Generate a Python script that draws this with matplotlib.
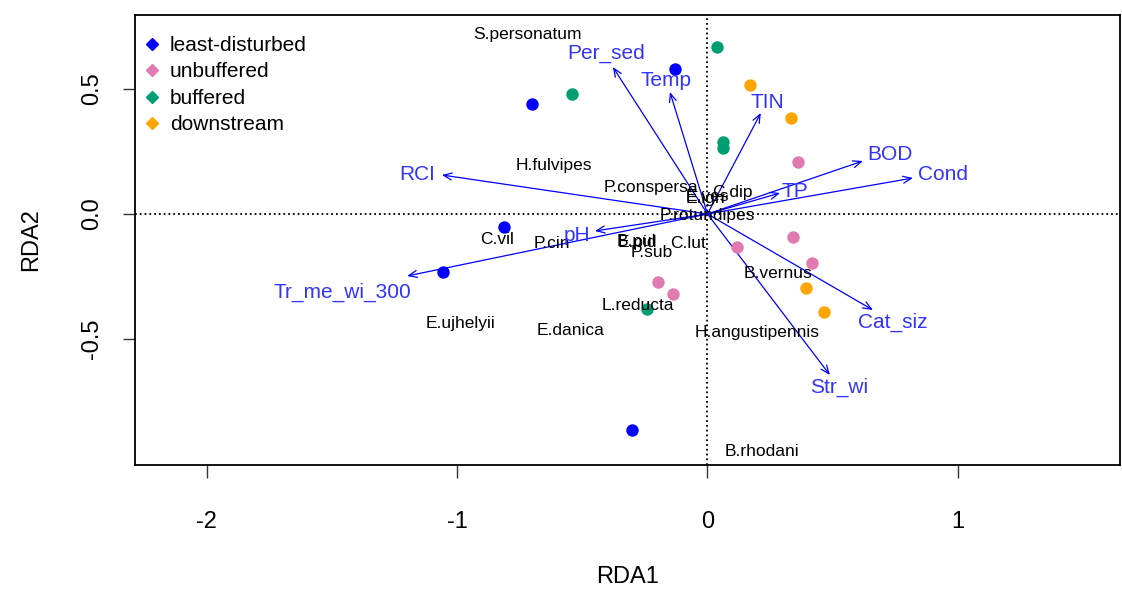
import numpy as np
import matplotlib.pyplot as plt
from matplotlib.lines import Line2D

plt.rcParams['font.family'] = ['Liberation Sans', 'DejaVu Sans']

# site scores by group
groups = ['least-disturbed', 'unbuffered', 'buffered', 'downstream']
colors = ['#0000FF', '#E07AB0', '#009E73', '#FFA500']
site_x = {
    'least-disturbed': [-0.13, -0.70, -0.813, -1.057, -0.302],
    'unbuffered': [0.361, 0.341, 0.118, 0.417, -0.198, -0.138],
    'buffered': [0.038, -0.541, 0.062, 0.062, -0.242],
    'downstream': [0.17, 0.333, 0.393, 0.465],
}
site_y = {
    'least-disturbed': [0.58, 0.44, -0.052, -0.232, -0.864],
    'unbuffered': [0.208, -0.092, -0.132, -0.196, -0.272, -0.32],
    'buffered': [0.668, 0.48, 0.288, 0.264, -0.38],
    'downstream': [0.516, 0.384, -0.296, -0.392],
}

# species scores
species = ['S.personatum', 'H.fulvipes', 'P.conspersa', 'C.dip', 'E.ign', 'E.ves',
           'P.rotundipes', 'C.vil', 'P.cin', 'B.pul', 'E.pid', 'P.sub', 'C.lut',
           'B.vernus', 'L.reducta', 'H.angustipennis', 'E.ujhelyii', 'E.danica',
           'B.rhodani']
sp_x = [-0.719, -0.613, -0.226, 0.098, -0.01, 0.0, 0.0, -0.841, -0.622, -0.285,
        -0.28, -0.222, -0.078, 0.282, -0.278, 0.198, -0.985, -0.546, 0.218]
sp_y = [0.72, 0.196, 0.108, 0.088, 0.064, 0.07, -0.004, -0.10, -0.116, -0.108,
        -0.114, -0.152, -0.116, -0.236, -0.364, -0.472, -0.436, -0.464, -0.948]

# environmental biplot arrows (tip) and label positions
env = ['Per_sed', 'Temp', 'TIN', 'BOD', 'Cond', 'TP', 'RCI', 'pH',
       'Tr_me_wi_300', 'Cat_siz', 'Str_wi']
env_x = [-0.378, -0.15, 0.213, 0.621, 0.821, 0.29, -1.061, -0.45, -1.20, 0.661, 0.489]
env_y = [0.588, 0.488, 0.404, 0.212, 0.144, 0.084, 0.156, -0.068, -0.248, -0.384, -0.644]
lab_x = [-0.405, -0.166, 0.238, 0.729, 0.941, 0.35, -1.161, -0.522, -1.457, 0.741, 0.525]
lab_y = [0.644, 0.536, 0.448, 0.24, 0.16, 0.092, 0.16, -0.084, -0.312, -0.432, -0.692]

fig = plt.figure(figsize=(11.22, 5.92), dpi=100)
ax = fig.add_axes([135 / 1122, 1 - 465 / 592, 985 / 1122, 450 / 592])

ax.axhline(0, color='black', ls=':', lw=1.3, zorder=1)
ax.axvline(0, color='black', ls=':', lw=1.3, zorder=1)

for g, c in zip(groups, colors):
    ax.scatter(site_x[g], site_y[g], s=80, color=c, zorder=3, linewidths=0)

for name, x, y in zip(species, sp_x, sp_y):
    ax.text(x, y, name, fontsize=12.5, ha='center', va='center', color='black', zorder=4)

for name, x, y, lx, ly in zip(env, env_x, env_y, lab_x, lab_y):
    ax.annotate('', xy=(x, y), xytext=(0, 0),
                arrowprops=dict(arrowstyle='->,head_length=0.6,head_width=0.25',
                                color='#0000FF', lw=0.9, shrinkA=0, shrinkB=0),
                zorder=2)
    ax.text(lx, ly, name, fontsize=15, ha='center', va='center', color='#3333FF', zorder=4)

ax.set_xlim(-2.287, 1.648)
ax.set_ylim(-1.004, 0.796)
ax.set_xticks([-2, -1, 0, 1])
ax.set_yticks([-0.5, 0.0, 0.5])
ax.set_xticklabels(['-2', '-1', '0', '1'])
ax.set_yticklabels(['-0.5', '0.0', '0.5'], rotation=90, va='center')
ax.tick_params(labelsize=17, length=9, width=1, color='#333333')
ax.tick_params(axis='x', pad=24)
ax.tick_params(axis='y', pad=14)
for sp in ax.spines.values():
    sp.set_linewidth(1.3)
ax.set_xlabel('RDA1', fontsize=17, labelpad=24)
ax.set_ylabel('RDA2', fontsize=17, labelpad=28)

handles = [Line2D([], [], ls='', marker='D', markersize=6, color=c) for c in colors]
ax.legend(handles, groups, loc='upper left', bbox_to_anchor=(-0.01, 1.0), frameon=False,
          fontsize=15, handlelength=0.6, handletextpad=0.55, labelspacing=0.36,
          borderaxespad=0.6)

fig.savefig('out.png', dpi=100)
